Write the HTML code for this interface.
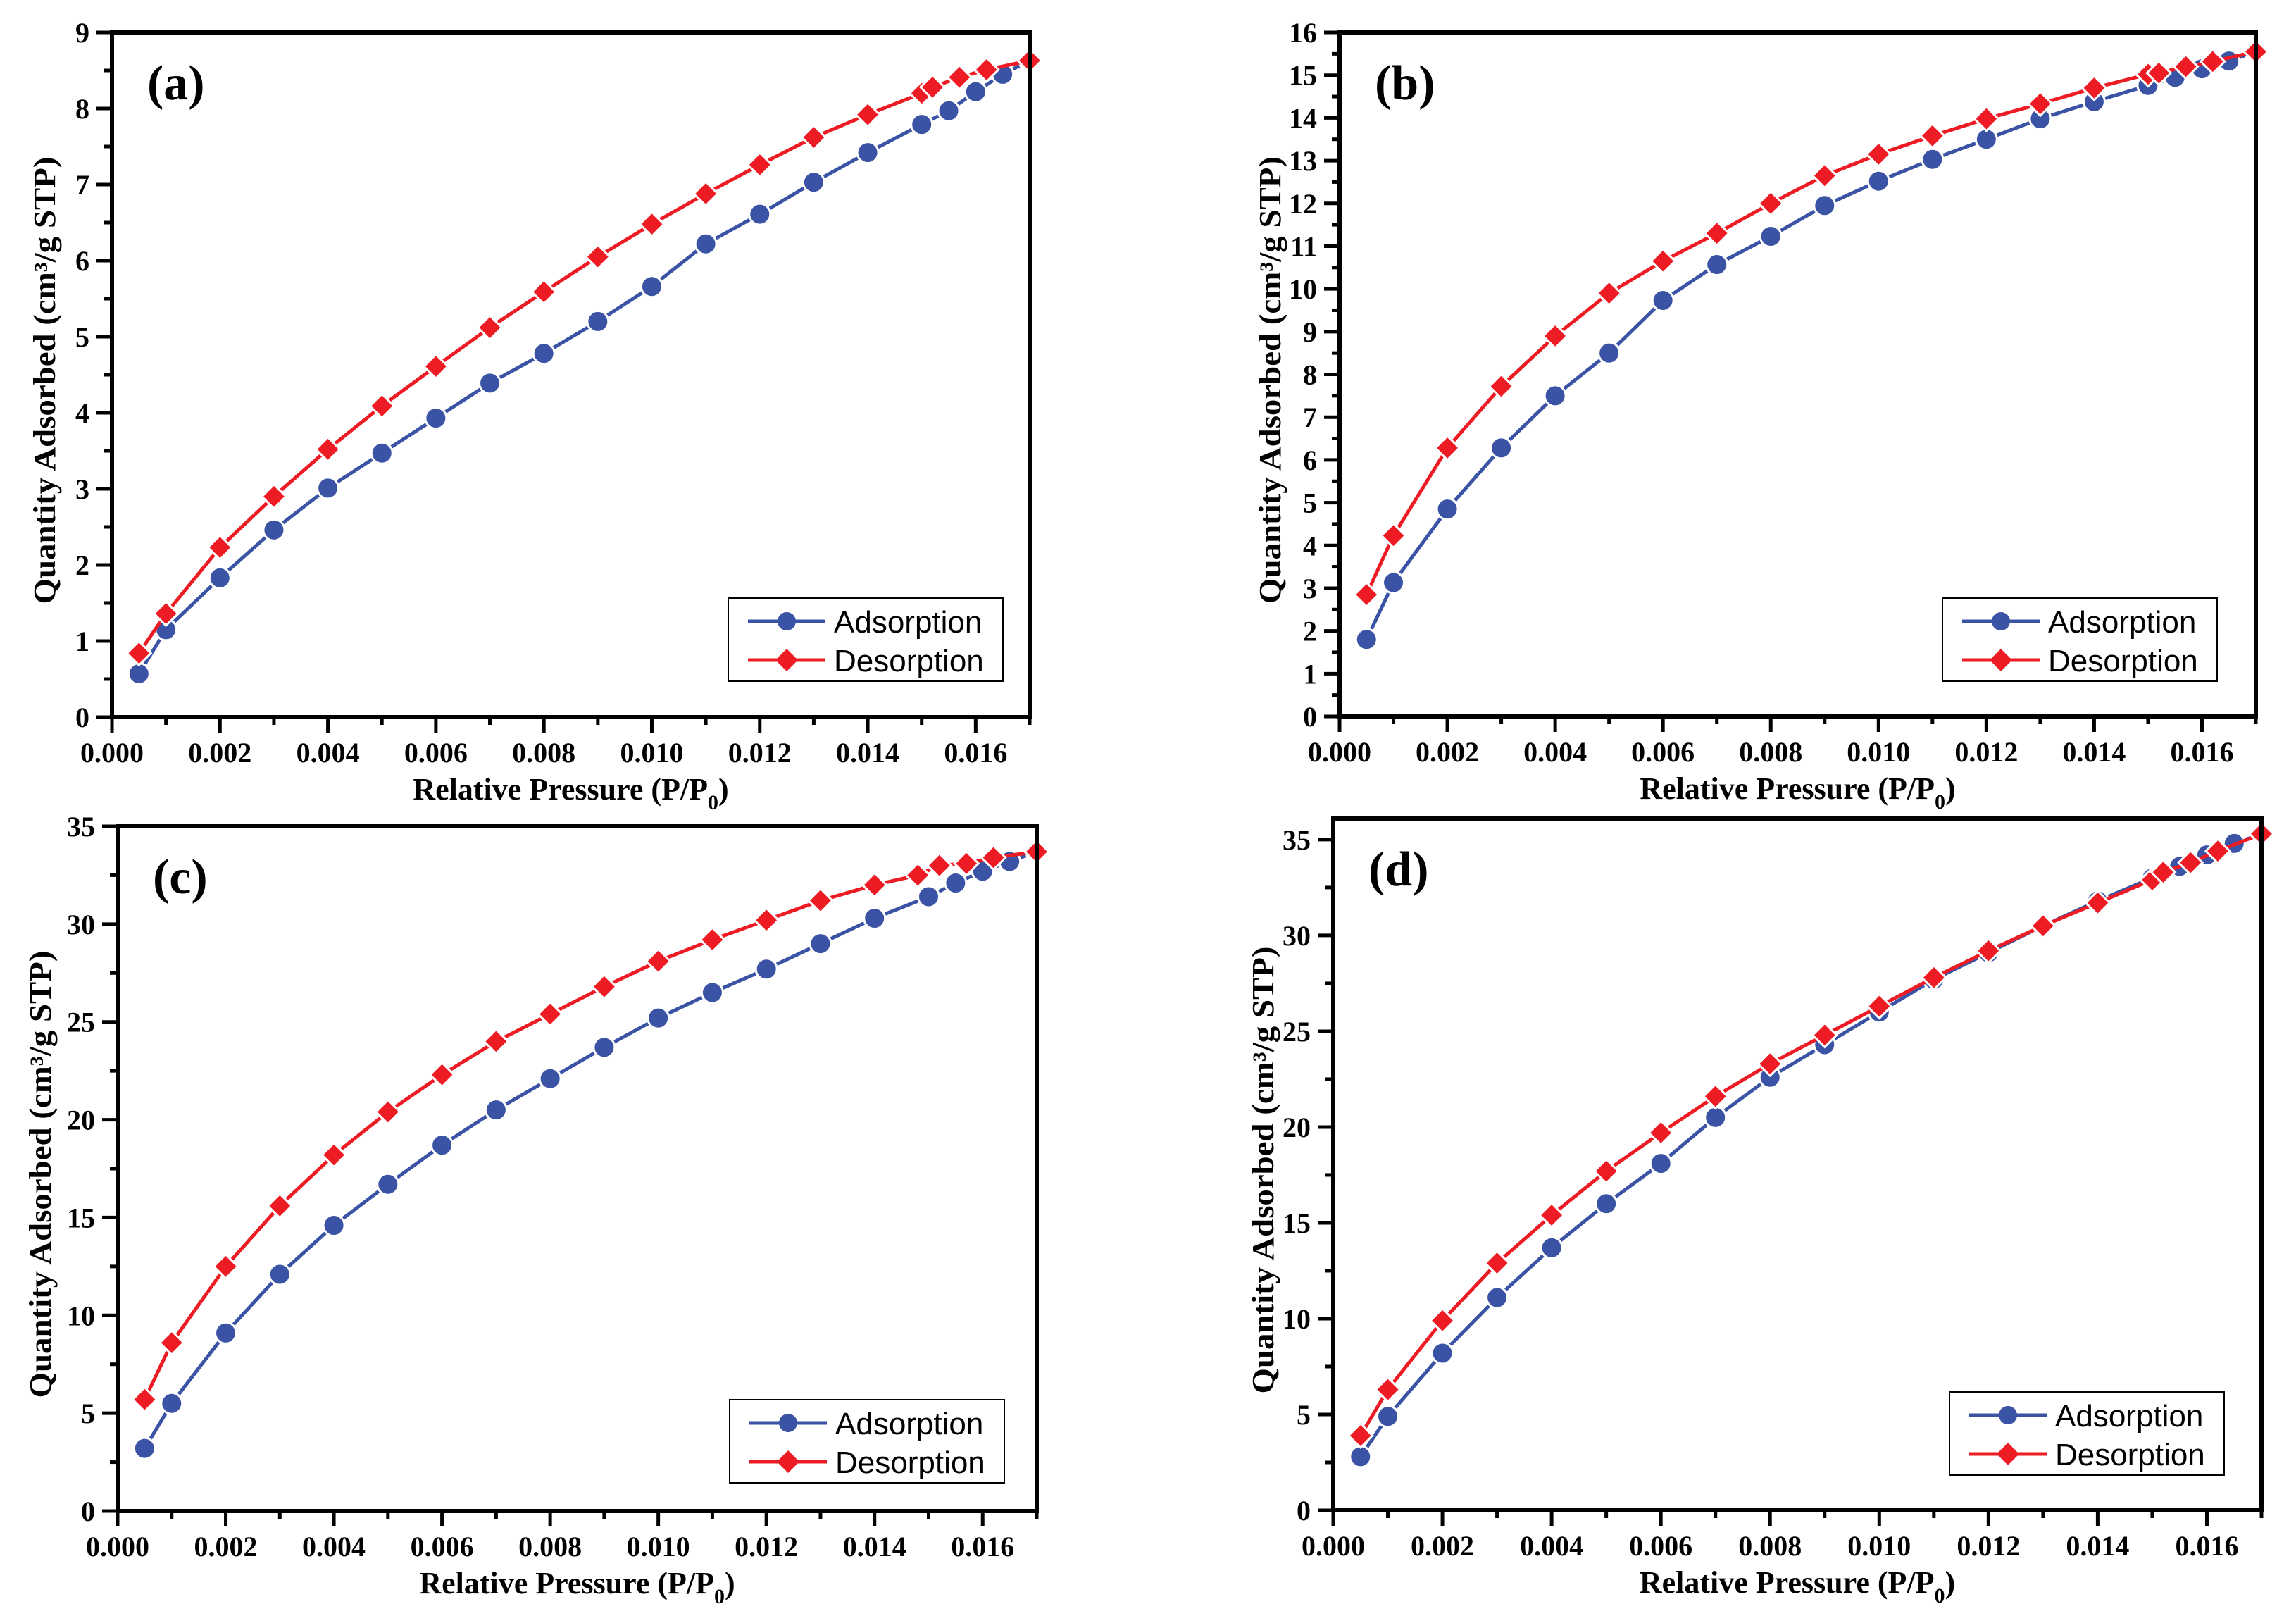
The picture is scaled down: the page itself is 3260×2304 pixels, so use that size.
<!DOCTYPE html>
<html><head><meta charset="utf-8"><style>
html,body{margin:0;padding:0;background:#fff;}
svg{display:block;}
</style></head><body>
<svg id="fig" width="3260" height="2304" viewBox="0 0 3260 2304" xmlns="http://www.w3.org/2000/svg"></svg>
<script>
// ---- shared x data ----
const adsX = [0.0005,0.001,0.002,0.003,0.004,0.005,0.006,0.007,0.008,0.009,0.010,0.011,0.012,0.013,0.014,0.015,0.0155,0.016,0.0165,0.017];
const desX = [0.0005,0.001,0.002,0.003,0.004,0.005,0.006,0.007,0.008,0.009,0.010,0.011,0.012,0.013,0.014,0.015,0.0152,0.0157,0.0162,0.017];
const desXc = [0.0005,0.001,0.002,0.003,0.004,0.005,0.006,0.007,0.008,0.009,0.010,0.011,0.012,0.013,0.014,0.0148,0.0152,0.0157,0.0162,0.017];
const xTickLabels = ["0.000","0.002","0.004","0.006","0.008","0.010","0.012","0.014","0.016"];
// ---- panel a ----
const adsA = [0.57,1.15,1.83,2.46,3.01,3.47,3.93,4.39,4.78,5.2,5.66,6.22,6.61,7.03,7.42,7.79,7.97,8.22,8.45,8.63];
const desA = [0.84,1.36,2.23,2.9,3.52,4.09,4.61,5.12,5.59,6.05,6.48,6.88,7.26,7.62,7.92,8.2,8.28,8.41,8.51,8.63];
const yTicksA = [0,1,2,3,4,5,6,7,8,9];
// ---- panel b ----
const adsB = [1.8,3.13,4.85,6.28,7.5,8.5,9.73,10.57,11.23,11.95,12.52,13.03,13.5,13.98,14.38,14.76,14.95,15.15,15.33,15.55];
const desB = [2.85,4.23,6.28,7.72,8.9,9.9,10.65,11.3,12.0,12.65,13.15,13.58,13.98,14.33,14.7,15.02,15.05,15.2,15.32,15.55];
const yTicksB = [0,1,2,3,4,5,6,7,8,9,10,11,12,13,14,15,16];
// ---- panel c ----
const adsC = [3.2,5.5,9.1,12.1,14.6,16.7,18.7,20.5,22.1,23.7,25.2,26.5,27.7,29.0,30.3,31.4,32.1,32.7,33.2,33.7];
const desC = [5.7,8.6,12.5,15.6,18.2,20.4,22.3,24.0,25.4,26.8,28.1,29.2,30.2,31.2,32.0,32.5,33.0,33.1,33.4,33.7];
const yTicksC = [0,5,10,15,20,25,30,35];
// ---- panel d ----
const adsD = [2.8,4.9,8.2,11.1,13.7,16.0,18.1,20.5,22.6,24.3,26.0,27.7,29.1,30.5,31.8,33.0,33.6,34.2,34.8,35.3];
const desD = [3.9,6.3,9.9,12.9,15.4,17.7,19.7,21.6,23.3,24.8,26.3,27.8,29.2,30.5,31.7,32.9,33.3,33.8,34.4,35.3];
const yTicksD = [0,5,10,15,20,25,30,35];

const NS = "http://www.w3.org/2000/svg";
const svg = document.getElementById('fig');
const BLUE = "#3a53a4", RED = "#ed1c24";
function mk(tag, attrs, parent, text){
  const e = document.createElementNS(NS, tag);
  for (const k in attrs) e.setAttribute(k, attrs[k]);
  if (text !== undefined) e.textContent = text;
  (parent || svg).appendChild(e);
  return e;
}

function panel(cfg){
  const g = mk('g', {});
  
  
  const L = cfg.L, R = cfg.R, T = cfg.T, B = cfg.B;
  const sx = v => L + (v / 0.017) * (R - L);
  const sy = v => B - (v / cfg.ymax) * (B - T);
  function series(xs, ys, color, shape, name){
    const sg = mk('g', {}, g);
    
    
    let d = '';
    xs.forEach((x, i) => { d += (i ? 'L' : 'M') + sx(x).toFixed(1) + ' ' + sy(ys[i]).toFixed(1); });
    const p = mk('path', {d: d, fill: 'none', stroke: color, 'stroke-width': 5, 'stroke-linejoin': 'round'}, sg);
    
    
    xs.forEach((x, i) => {
      const cx = sx(x), cy = sy(ys[i]);
      let m;
      if (shape === 'circle') {
        m = mk('circle', {cx: cx, cy: cy, r: 15, fill: color, stroke: '#fff', 'stroke-width': 3}, sg);
      } else {
        const s = 17;
        m = mk('path', {d: `M${cx} ${cy - s}L${cx + s} ${cy}L${cx} ${cy + s}L${cx - s} ${cy}Z`, fill: color, stroke: '#fff', 'stroke-width': 3}, sg);
      }
      
      
    });
  }
  series(adsX, cfg.ads, BLUE, 'circle', 'adsorption');
  series(cfg.desX, cfg.des, RED, 'diamond', 'desorption');
  const fr = mk('rect', {x: L, y: T, width: R - L, height: B - T, fill: 'none', stroke: '#000', 'stroke-width': 6}, g);
  
  
  for (let i = 0; i <= 17; i++){
    const x = sx(i * 0.001);
    const len = (i % 2 === 0) ? 22 : 11;
    const t = mk('line', {x1: x, y1: B, x2: x, y2: B + len, stroke: '#000', 'stroke-width': 5}, g);
    
    
  }
  xTickLabels.forEach((lab, i) => {
    const t = mk('text', {x: sx(i * 0.002), y: B + 64, 'text-anchor': 'middle', 'font-family': 'Liberation Serif, serif', 'font-weight': 'bold', 'font-size': 40}, g, lab);
    
    
  });
  const step = cfg.yTicks[1] - cfg.yTicks[0];
  const nMinor = Math.floor(cfg.ymax / (step / 2) + 1e-6);
  for (let i = 0; i <= nMinor; i++){
    const v = i * step / 2;
    const y = sy(v);
    const len = (i % 2 === 0) ? 22 : 11;
    const t = mk('line', {x1: L, y1: y, x2: L - len, y2: y, stroke: '#000', 'stroke-width': 5}, g);
    
    
  }
  cfg.yTicks.forEach(v => {
    const t = mk('text', {x: L - 32, y: sy(v) + 14, 'text-anchor': 'end', 'font-family': 'Liberation Serif, serif', 'font-weight': 'bold', 'font-size': 40}, g, String(v));
    
    
  });
  const xt = mk('text', {x: (L + R) / 2, y: B + 117, 'text-anchor': 'middle', 'font-family': 'Liberation Serif, serif', 'font-weight': 'bold', 'font-size': 44}, g);
  
  
  mk('tspan', {}, xt, 'Relative Pressure (P/P');
  mk('tspan', {'font-size': 30, dy: 14}, xt, '0');
  mk('tspan', {dy: -14}, xt, ')');
  const cyT = (T + B) / 2 + 8;
  const yt = mk('text', {x: 0, y: 0, transform: `translate(${cfg.ytx},${cyT}) rotate(-90)`, 'text-anchor': 'middle', 'font-family': 'Liberation Serif, serif', 'font-weight': 'bold', 'font-size': 44, textLength: 635, lengthAdjust: 'spacingAndGlyphs'}, g, 'Quantity Adsorbed (cm³/g STP)');
  
  
  const pl = mk('text', {x: L + 50, y: T + 95, 'font-family': 'Liberation Serif, serif', 'font-weight': 'bold', 'font-size': 70}, g, '(' + cfg.id + ')');
  
  
  const lg = mk('g', {}, g);
  
  
  const lx = cfg.leg[0], ly = cfg.leg[1], lw = 390, lh = 118;
  mk('rect', {x: lx, y: ly, width: lw, height: lh, fill: '#fff', stroke: '#000', 'stroke-width': 2}, lg);
  [[BLUE, 'circle', 'Adsorption', 33], [RED, 'diamond', 'Desorption', 88]].forEach(r => {
    const e = mk('g', {}, lg);
    
    
    const yy = ly + r[3];
    mk('line', {x1: lx + 28, y1: yy, x2: lx + 138, y2: yy, stroke: r[0], 'stroke-width': 5}, e);
    const cx = lx + 83;
    if (r[1] === 'circle') mk('circle', {cx: cx, cy: yy, r: 13, fill: r[0]}, e);
    else mk('path', {d: `M${cx} ${yy - 16}L${cx + 16} ${yy}L${cx} ${yy + 16}L${cx - 16} ${yy}Z`, fill: r[0]}, e);
    mk('text', {x: lx + 150, y: yy + 16, 'font-family': 'Liberation Sans, sans-serif', 'font-size': 44}, e, r[2]);
  });
}

panel({id: 'a', L: 159, R: 1462, T: 46, B: 1018, ymax: 9, yTicks: yTicksA, ads: adsA, des: desA, desX: desX, ytx: 78, leg: [1034, 849]});
panel({id: 'b', L: 1902, R: 3203, T: 46, B: 1017, ymax: 16, yTicks: yTicksB, ads: adsB, des: desB, desX: desX, ytx: 1818, leg: [2758, 849]});
panel({id: 'c', L: 167, R: 1472, T: 1173, B: 2145, ymax: 35, yTicks: yTicksC, ads: adsC, des: desC, desX: desXc, ytx: 72, leg: [1036, 1987]});
panel({id: 'd', L: 1893, R: 3211, T: 1162, B: 2144, ymax: 36.1, yTicks: yTicksD, ads: adsD, des: desD, desX: desX, ytx: 1808, leg: [2768, 1976]});
</script>
</body></html>
